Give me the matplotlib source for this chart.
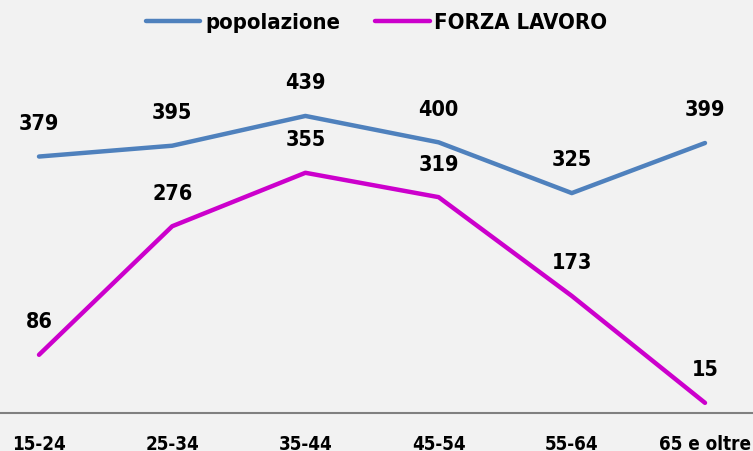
import matplotlib
matplotlib.use("Agg")
import matplotlib.pyplot as plt

categories = ["15-24", "25-34", "35-44", "45-54", "55-64", "65 e oltre"]
popolazione = [379, 395, 439, 400, 325, 399]
forza_lavoro = [86, 276, 355, 319, 173, 15]

plt.rcParams['font.family'] = ['DejaVu Sans']
plt.rcParams['font.stretch'] = 'condensed'

bg = "#F2F2F2"
fig = plt.figure(figsize=(7.53, 4.51), dpi=100, facecolor=bg)
ax = fig.add_axes([0, 38/451, 1, 406/451], facecolor=bg)

x = list(range(len(categories)))
ax.plot(x, popolazione, color="#4F81BD", lw=3.2, label="popolazione", solid_capstyle="round")
ax.plot(x, forza_lavoro, color="#CC00CC", lw=3.2, label="FORZA LAVORO", solid_capstyle="round")

for xi, v in zip(x, popolazione):
    ax.annotate(str(v), (xi, v), xytext=(0, 23.5), textcoords="offset points",
                ha="center", va="center", fontsize=15.5, fontweight="bold")
for xi, v in zip(x, forza_lavoro):
    ax.annotate(str(v), (xi, v), xytext=(0, 23.5), textcoords="offset points",
                ha="center", va="center", fontsize=15.5, fontweight="bold")

ax.set_xlim(-39/133.2, (753-39)/133.2)
ax.set_ylim(0, 600)
ax.set_xticks(x)
ax.set_xticklabels(categories, fontsize=13.5, fontweight="bold")
ax.tick_params(axis="x", length=0, pad=16)
ax.set_yticks([])
for s in ["top", "right", "left"]:
    ax.spines[s].set_visible(False)
ax.spines["bottom"].set_color("#808080")
ax.spines["bottom"].set_linewidth(1.5)

leg = fig.legend(loc="center", bbox_to_anchor=(0.5, 1 - 23/451), ncol=2, frameon=False,
                 prop={"size": 15.8, "weight": "bold"}, handlelength=2.5,
                 handletextpad=0.2, columnspacing=1.6)

fig.savefig("out.png", dpi=100, facecolor=bg)
